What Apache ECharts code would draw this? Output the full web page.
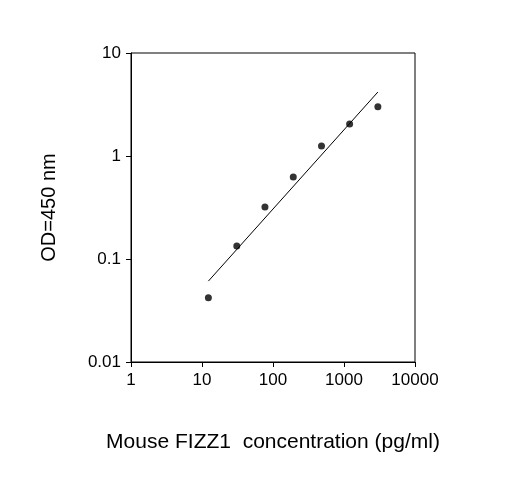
<!DOCTYPE html>
<html><head><meta charset="utf-8">
<script src="https://cdn.jsdelivr.net/npm/echarts@6/dist/echarts.min.js"></script>
<style>html,body{margin:0;padding:0;background:#fff}#chart{width:518px;height:477px}</style>
</head><body><div id="chart"></div>
<script>
var conc = [12.3, 30.9, 77, 193, 482, 1200, 3000];
var od = [0.042, 0.134, 0.32, 0.625, 1.25, 2.05, 3.0];
var fitX = [12.3, 3000];
var fitY = [0.061, 4.18];

var chart = echarts.init(document.getElementById('chart'));
var font = 'Liberation Sans, Arial, sans-serif';
var fmt = function (v) { return String(+v.toPrecision(3)); };
var option = {
    animation: false,
    grid: { left: 131, right: 103, top: 53, bottom: 115, show: true, borderColor: '#000', borderWidth: 1 },
    xAxis: {
        type: 'log', logBase: 10, min: 1, max: 10000,
        name: 'Mouse FIZZ1  concentration (pg/ml)', nameLocation: 'middle', nameGap: 70,
        nameTextStyle: { fontFamily: font, fontSize: 21, color: '#000' },
        axisLine: { lineStyle: { color: '#000' } },
        axisTick: { lineStyle: { color: '#000' }, length: 5 },
        axisLabel: { fontFamily: font, fontSize: 17, color: '#000', margin: 10, formatter: fmt },
        splitLine: { show: false }
    },
    yAxis: {
        type: 'log', logBase: 10, min: 0.01, max: 10,
        name: 'OD=450 nm', nameLocation: 'middle', nameGap: 72,
        nameTextStyle: { fontFamily: font, fontSize: 20, color: '#000' },
        axisLine: { lineStyle: { color: '#000' } },
        axisTick: { lineStyle: { color: '#000' }, length: 5 },
        axisLabel: { fontFamily: font, fontSize: 17, color: '#000', margin: 10, formatter: fmt },
        splitLine: { show: false }
    },
    series: [{
        type: 'scatter', symbolSize: 7, itemStyle: { color: '#000' },
        data: conc.map(function (c, i) { return [c, od[i]]; })
    }, {
        type: 'line', symbol: 'none', lineStyle: { color: '#000', width: 1 },
        data: fitX.map(function (c, i) { return [c, fitY[i]]; })
    }]
};
chart.setOption(option);
window.addEventListener('resize', function () { chart.resize(); });
</script></body></html>
